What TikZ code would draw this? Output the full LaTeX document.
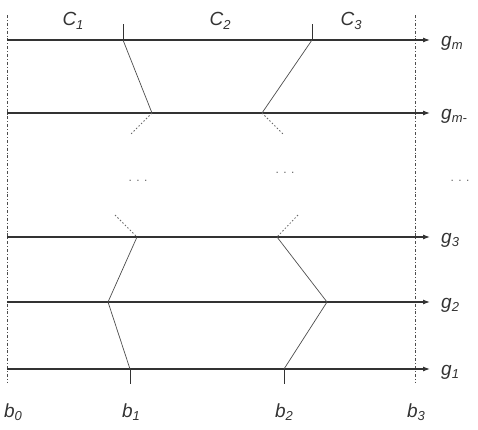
\documentclass[tikz,border=0pt]{standalone}
\usepackage{fontspec}
\setmainfont{Liberation Sans}
\usetikzlibrary{arrows.meta}
\newcommand{\sbx}[1]{\raisebox{-0.35ex}{\fontsize{13}{13}\selectfont #1}}
\begin{document}
\begin{tikzpicture}[x=1pt,y=-1pt,
  axis/.style={draw=black!80,line width=1.1pt,-{Latex[length=7pt,width=5pt]}},
  border/.style={draw=black!70,line width=0.6pt,dash pattern=on 3pt off 2pt on 0.8pt off 2pt},
  slant/.style={draw=black!70,line width=0.7pt},
  dots/.style={draw=black!60,line width=0.8pt,dash pattern=on 1.5pt off 2pt},
  tick/.style={draw=black!80,line width=0.8pt},
  lab/.style={font=\fontsize{19}{19}\selectfont\itshape,text=black!80,inner sep=0pt},
  ell/.style={font=\fontsize{12}{12}\selectfont,text=black!60,inner sep=0pt}]
\useasboundingbox (0,0) rectangle (478,429);
% borders
\coordinate (v0t) at (7,15); \coordinate (v0b) at (7,383);
\coordinate (v3t) at (415,15); \coordinate (v3b) at (415,383);
\draw[border] (v0t) -- (v0b);
\draw[border] (v3t) -- (v3b);
% axes
\foreach \n/\y in {m/40, mm/113, t/237, s/302, o/369}{
  \coordinate (L\n) at (7,\y); \coordinate (R\n) at (430,\y);
  \draw[axis] (L\n) -- (R\n);
}
% boundary points
\coordinate (a1) at (123,40); \coordinate (a2) at (312,40);
\coordinate (a1t) at (123,24); \coordinate (a2t) at (312,24);
\coordinate (p1) at (152,113); \coordinate (p2) at (262,113);
\coordinate (p1d) at (130,135); \coordinate (p2d) at (284,135);
\coordinate (q1u) at (115,215); \coordinate (q2u) at (298,215);
\coordinate (q1) at (137,237); \coordinate (q2) at (277,237);
\coordinate (r1) at (108,302); \coordinate (r2) at (327,302);
\coordinate (s1) at (130,369); \coordinate (s2) at (284,369);
\coordinate (s1b) at (130,384); \coordinate (s2b) at (284,384);
\draw[tick] (a1t) -- (a1); \draw[tick] (a2t) -- (a2);
\draw[tick] (s1) -- (s1b); \draw[tick] (s2) -- (s2b);
\draw[slant] (a1) -- (p1); \draw[slant] (a2) -- (p2);
\draw[dots] (p1) -- (p1d); \draw[dots] (p2) -- (p2d);
\draw[dots] (q1u) -- (q1); \draw[dots] (q2u) -- (q2);
\draw[slant] (q1) -- (r1) -- (s1);
\draw[slant] (q2) -- (r2) -- (s2);
% labels
\node[lab] (c1) at (73,21) {C\sbx{1}};
\node[lab] (c2) at (220,21) {C\sbx{2}};
\node[lab] (c3) at (351,21) {C\sbx{3}};
\node[lab,anchor=west] (gm) at (441,43) {g\sbx{m}};
\node[lab,anchor=west] (gmm) at (441,116) {g\sbx{m-}};
\node[lab,anchor=west] (g3) at (441,240) {g\sbx{3}};
\node[lab,anchor=west] (g2) at (441,305) {g\sbx{2}};
\node[lab,anchor=west] (g1) at (441,372) {g\sbx{1}};
\node[lab] (b0) at (13,412) {b\sbx{0}};
\node[lab] (b1) at (131,412) {b\sbx{1}};
\node[lab] (b2) at (284,412) {b\sbx{2}};
\node[lab] (b3) at (416,412) {b\sbx{3}};
\node[ell] (e1) at (138,181) {. . .};
\node[ell] (e2) at (285,173) {. . .};
\node[ell] (e3) at (460,181) {. . .};
\end{tikzpicture}
\end{document}
